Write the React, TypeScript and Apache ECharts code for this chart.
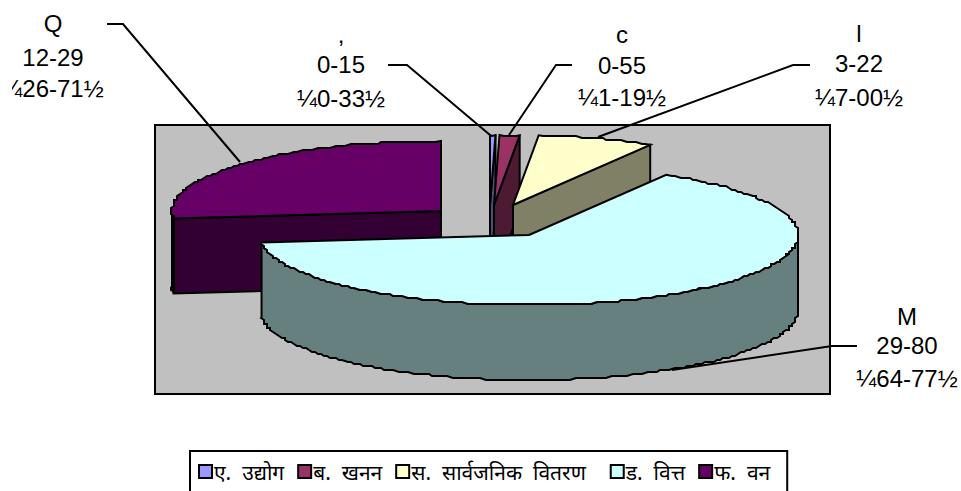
import React, { useEffect, useRef } from "react";
import * as echarts from "echarts";

// Sector names, amounts and the callouts printed next to each slice
const sectorNames = ["ए. उद्योग", "ब. खनन", "स. सार्वजनिक वितरण", "ड. वित्त", "फ. वन"];
const sectorValues = [0.15, 0.55, 3.22, 29.8, 12.29];
const topColors = ["#9999FF", "#993366", "#FFFFCC", "#CCFFFF", "#660066"];
const sideColors = ["#4D4D80", "#4D1A33", "#808066", "#668080", "#330033"];
const calloutHeads = [",", "c", "l", "M", "Q"];
const calloutValues = ["0-15", "0-55", "3-22", "29-80", "12-29"];
const calloutShares = ["¼0-33½", "¼1-19½", "¼7-00½", "¼64-77½", "¼26-71½"];

// Layout of the tilted, exploded pie
const radiusX = 269;
const radiusY = 70;
const depth = 75;
const apexes = [
  [490, 205],
  [494, 205],
  [513, 205],
  [529, 235],
  [441, 211],
];
const calloutPlaces = [
  { x: 341, y: [34, 64, 98] },
  { x: 622, y: [34, 65, 97] },
  { x: 859, y: [33, 63, 97] },
  { x: 907, y: [316, 345, 378] },
  { x: 53, y: [23, 57, 88] },
];
const leaders = [
  [[388, 65], [407, 65], [490, 135]],
  [[572, 65], [556, 65], [509, 135]],
  [[810, 65], [793, 65], [598, 137]],
  [[857, 346], [832, 346], [672, 370]],
  [[107, 24], [123, 24], [240, 162]],
];
const paintOrder = [4, 0, 1, 2, 3];

const total = sectorValues.reduce((a, b) => a + b, 0);
const turn = Math.PI * 2;

function sliceAngles(index: number) {
  let before = 0;
  for (let i = 0; i < index; i++) before += sectorValues[i];
  return [(before / total) * turn, ((before + sectorValues[index]) / total) * turn];
}

function rim(apex: number[], angle: number, drop = 0) {
  return [apex[0] + radiusX * Math.sin(angle), apex[1] - radiusY * Math.cos(angle) + drop];
}

// Arc sampled onto a coarse pixel grid, which gives the rim its stepped outline
function rimArc(apex: number[], from: number, to: number, drop = 0) {
  const pts: number[][] = [];
  const count = Math.max(2, Math.ceil(Math.abs(to - from) / 0.02));
  for (let i = 0; i <= count; i++) {
    const p = rim(apex, from + ((to - from) * i) / count, drop);
    const q = i === 0 || i === count ? p : [Math.round(p[0] / 3) * 3, Math.round(p[1] / 2) * 2];
    const last = pts[pts.length - 1];
    if (!last || last[0] !== q[0] || last[1] !== q[1]) pts.push(q);
  }
  return pts;
}

function face(points: number[][], fill: string) {
  return {
    type: "polygon",
    shape: { points },
    style: { fill, stroke: "#000", lineWidth: 2, lineJoin: "miter" },
  };
}

function renderSlice(index: number) {
  const [a0, a1] = sliceAngles(index);
  const apex = apexes[index];
  const under = [apex[0], apex[1] + depth];
  const side = sideColors[index];
  const children: any[] = [];
  if (Math.sin(a0) < 0) {
    const r = rim(apex, a0);
    children.push(face([apex, r, [r[0], r[1] + depth], under], side));
  }
  if (Math.sin(a1) > 0) {
    const r = rim(apex, a1);
    children.push(face([apex, r, [r[0], r[1] + depth], under], side));
  }
  const wallFrom = Math.max(a0, Math.PI / 2);
  const wallTo = Math.min(a1, (Math.PI * 3) / 2);
  if (wallTo > wallFrom) {
    const upper = rimArc(apex, wallFrom, wallTo);
    const lower = rimArc(apex, wallTo, wallFrom, depth);
    children.push(face([...upper, ...lower], side));
  }
  children.push(face([apex, ...rimArc(apex, a0, a1)], topColors[index]));
  return { type: "group", children };
}

function renderCallout(index: number) {
  const place = calloutPlaces[index];
  const lines = [calloutHeads[index], calloutValues[index], calloutShares[index]];
  return [
    {
      type: "polyline",
      z: 50,
      silent: true,
      shape: { points: leaders[index] },
      style: { fill: "none", stroke: "#000", lineWidth: 2 },
    },
    ...lines.map((text, i) => ({
      type: "text",
      z: 50,
      silent: true,
      x: place.x,
      y: place.y[i],
      style: {
        text,
        fill: "#000",
        font: '24px "Liberation Sans", Arial, sans-serif',
        textAlign: "center",
        textVerticalAlign: "middle",
      },
    })),
  ];
}

// Legend entries are set with wide word spacing; the third also carries a trailing gap
function legendLabel(name: string) {
  const wide = name.replace(/ /g, "\u00a0\u00a0");
  return name === sectorNames[2] ? wide + "\u00a0\u00a0" : wide;
}

export default function App() {
  const ref = useRef<HTMLDivElement>(null);

  useEffect(() => {
    document.body.style.margin = "0";
    const chart = echarts.init(ref.current!, undefined, { renderer: "svg" });
    chart.setOption({
      animation: false,
      backgroundColor: "#fff",
      grid: {
        show: true,
        left: 155,
        top: 125,
        width: 675,
        height: 269,
        backgroundColor: "#C0C0C0",
        borderColor: "#000",
        borderWidth: 2,
      },
      xAxis: { type: "value", show: false },
      yAxis: { type: "value", show: false },
      legend: {
        left: 190,
        top: 451,
        orient: "horizontal",
        data: sectorNames,
        icon: "rect",
        itemWidth: 13,
        itemHeight: 13,
        itemGap: 13,
        padding: [10, 17, 30, 8],
        selectedMode: false,
        borderColor: "#000",
        borderWidth: 2,
        formatter: legendLabel,
        textStyle: {
          color: "#000",
          fontSize: 21,
          padding: [0, 0, 0, -3],
          fontFamily: '"Noto Sans", "Liberation Sans", sans-serif',
        },
      },
      series: paintOrder.map((index) => ({
        type: "custom",
        name: sectorNames[index],
        coordinateSystem: "none",
        silent: true,
        itemStyle: { color: topColors[index], borderColor: "#000", borderWidth: 2 },
        data: [[sectorValues[index]]],
        renderItem: () => renderSlice(index),
      })),
      graphic: {
        elements: [
          ...sectorNames.flatMap((_, i) => renderCallout(i)),
          // The far-left callout runs off the chart frame and is cut there
          {
            type: "rect",
            z: 60,
            silent: true,
            shape: { x: 0, y: 72, width: 12, height: 32 },
            style: { fill: "#fff" },
          },
        ],
      },
    });
    return () => chart.dispose();
  }, []);

  return <div ref={ref} style={{ width: 961, height: 491, overflow: "hidden" }} />;
}
